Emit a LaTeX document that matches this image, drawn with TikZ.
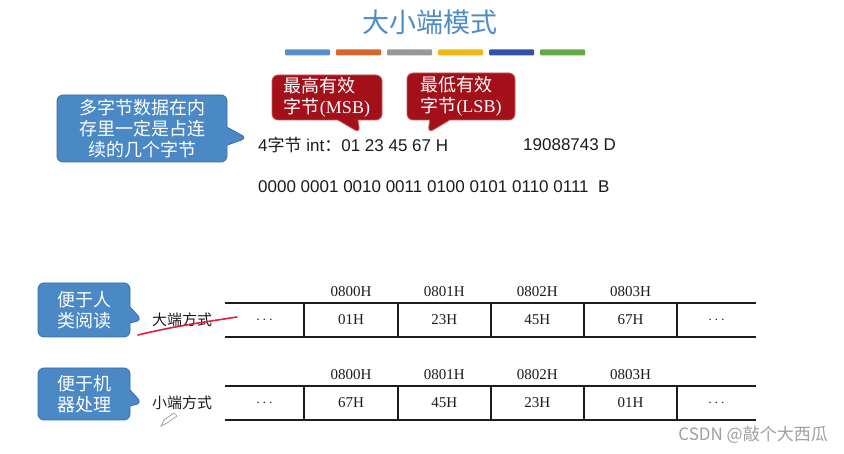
\documentclass[tikz,border=0pt]{standalone}
\usepackage{fontspec}
\setmainfont{Liberation Serif}
\newfontfamily\cjk{Noto Sans CJK SC}
\newfontfamily\arial{Liberation Sans}
\usetikzlibrary{shapes.callouts}
\newcommand{\fsz}[2]{\fontsize{#1}{#2}\selectfont}
\newcommand{\drawline}{\draw[line width=1.7pt, draw=Ink]}
\definecolor{Ink}{RGB}{28,28,28}
\definecolor{TitleBlue}{RGB}{78,140,200}
\definecolor{NoteBlue}{RGB}{74,137,197}
\definecolor{NoteBlueEdge}{RGB}{55,110,168}
\definecolor{NoteRed}{RGB}{164,16,26}
\definecolor{NoteRedEdge}{RGB}{200,90,90}
\definecolor{InkRed}{RGB}{222,32,62}
\definecolor{BarA}{RGB}{88,143,204}
\definecolor{BarB}{RGB}{214,102,48}
\definecolor{BarC}{RGB}{152,152,152}
\definecolor{BarD}{RGB}{238,184,22}
\definecolor{BarE}{RGB}{52,82,162}
\definecolor{BarF}{RGB}{98,170,68}
\definecolor{Mark}{RGB}{160,160,160}
\newcommand{\memrow}[3]{
    \drawline (225,#2)--(756,#2);
    \drawline (225,#2+34)--(756,#2+34);
    \foreach \x in {304,398,491,584,677}{
      \drawline (\x,#2)--(\x,#2+34);
    }
    \node[memcell] (#1-l) at (264.5,#2+17) {$\cdots$};
    \node[memcell] (#1-r) at (716.5,#2+17) {$\cdots$};
    \foreach \v [count=\i from 0] in {#3}{
      \node[memcell] (#1-\i) at (351+93.17*\i,#2+17) {\v};
      \node[memcell] (#1-a\i) at (351+93.17*\i,#2-11) {080\i H};
    }
}
\tikzset{
  note/.style={rectangle callout, rounded corners=6pt, inner sep=0pt, text=white,
    font=\cjk\fsz{18}{21}, line width=0.8pt},
  bluenote/.style={note, fill=NoteBlue, draw=NoteBlueEdge, align=center, callout pointer width=18pt},
  rednote/.style={note, fill=NoteRed, draw=NoteRedEdge, align=left, callout pointer width=20pt},
  memcell/.style={font=\fsz{15}{15}, text=Ink},
  plain/.style={anchor=west, text=Ink, font=\arial\fsz{17}{17}, inner sep=0pt},
  mode/.style={anchor=west, text=Ink, font=\cjk\fsz{15}{15}, inner sep=0pt}
}
\begin{document}
\begin{tikzpicture}[x=1pt, y=-1pt]
\useasboundingbox[fill=white] (0,0) rectangle (844,454);
\node[font=\cjk\fsz{27}{27}, text=TitleBlue] (title) at (430,22) {大小端模式};
\foreach \c [count=\i from 0] in {BarA,BarB,BarC,BarD,BarE,BarF}{
  \fill[\c, rounded corners=1pt] (285+51*\i,49.5) rectangle ++(45,6);
}
% first rows
\node[plain] (word) at (258,145) {4{\cjk 字节} int{\cjk ：}01 23 45 67 H};
\node[plain] (dec) at (523,145) {19088743 D};
\node[plain] (bin) at (258,187) {0000 0001 0010 0011 0100 0101 0110 0111~~B};
\node[bluenote, minimum width=170pt, minimum height=67pt,
  callout absolute pointer={(247,138)}] (contig) at (142,128.5)
  {多字节数据在内\\存里一定是占连\\续的几个字节};
\node[rednote, minimum width=110pt, minimum height=45pt,
  callout absolute pointer={(360,133)}] (msb) at (327,97.5)
  {最高有效\\字节{\rmfamily (MSB)}};
\node[rednote, minimum width=108pt, minimum height=47pt,
  callout absolute pointer={(428,133)}] (lsb) at (461,96.5)
  {最低有效\\字节{\rmfamily (LSB)}};
% memory rows
\memrow{big}{303}{01H,23H,45H,67H}
\memrow{little}{386}{67H,45H,23H,01H}
\node[bluenote, minimum width=92pt, minimum height=54pt, callout pointer width=16pt,
  callout absolute pointer={(142,320)}] (human) at (84,310) {便于人\\类阅读};
\node[bluenote, minimum width=92pt, minimum height=52pt, callout pointer width=16pt,
  callout absolute pointer={(142,403)}] (machine) at (84,394) {便于机\\器处理};
\node[mode] (bigmode) at (152,320) {大端方式};
\node[mode] (littlemode) at (152,403) {小端方式};
\draw[InkRed, line width=1.6pt, line cap=round] (138,335) .. controls (175,326) and (205,322) .. (237,317);
\draw[Mark, line width=0.7pt] (161,426)--(164,420)--(174,413)--(177,416)--(167,423)--cycle;
\node[anchor=east, inner sep=0pt, text=Mark, font=\cjk\fsz{17}{17}] (credit) at (828,435) {CSDN @敲个大西瓜};
\end{tikzpicture}
\end{document}
